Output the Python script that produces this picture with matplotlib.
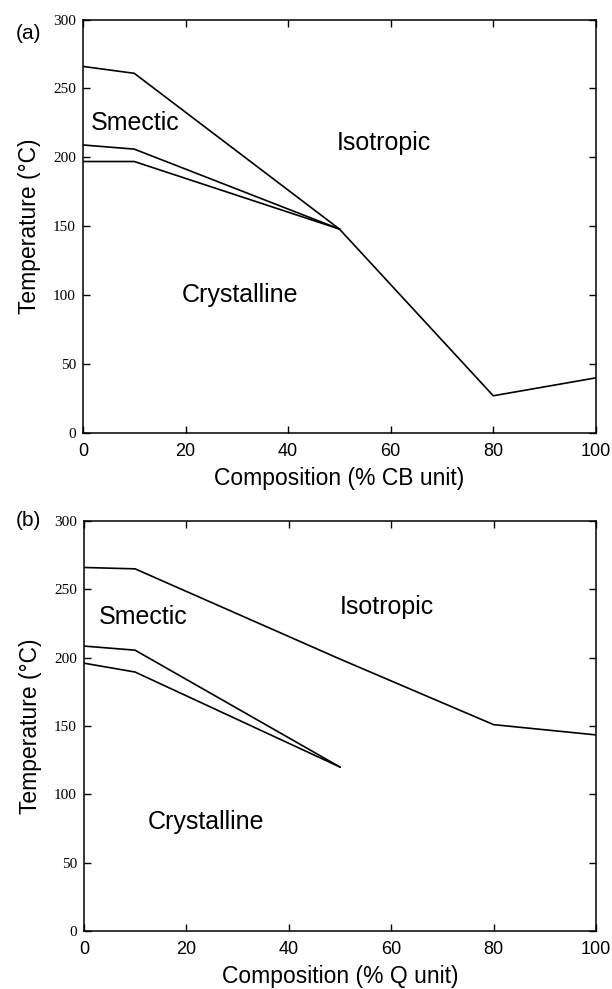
import matplotlib.pyplot as plt

# panel (a): composition in % CB unit
comp_a_iso = [0, 10, 50, 80, 100]
temp_a_iso = [266, 261, 148, 27, 40]
comp_a_mid = [0, 10, 50]
temp_a_mid = [209, 206, 148]
comp_a_low = [0, 10, 50]
temp_a_low = [197, 197, 148]

# panel (b): composition in % Q unit
comp_b_iso = [0, 10, 50, 80, 100]
temp_b_iso = [266, 265, 199, 151, 143.5]
comp_b_mid = [0, 10, 50]
temp_b_mid = [208.5, 205.5, 120]
comp_b_low = [0, 10, 50]
temp_b_low = [196, 189.5, 120]

xticks = [0, 20, 40, 60, 80, 100]
yticks = [0, 50, 100, 150, 200, 250, 300]

sans = ['Liberation Sans', 'DejaVu Sans']
serif = ['Liberation Serif', 'DejaVu Serif']

fig = plt.figure(figsize=(6.12, 9.89), dpi=100)
ax_a = fig.add_axes([0.1356, 0.5622, 0.838, 0.418])
ax_b = fig.add_axes([0.137, 0.0586, 0.837, 0.4146])


def style_axes(ax, xlabel):
    ax.set_xlim(0, 100)
    ax.set_ylim(0, 300)
    ax.set_xticks(xticks)
    ax.set_yticks(yticks)
    ax.tick_params(direction='in', top=True, right=True, length=5, width=1)
    ax.tick_params(axis='x', pad=7)
    ax.tick_params(axis='y', pad=5)
    for lab in ax.get_xticklabels():
        lab.set_fontfamily(sans)
        lab.set_fontsize(13)
    for lab in ax.get_yticklabels():
        lab.set_fontfamily(serif)
        lab.set_fontsize(11)
    for sp in ax.spines.values():
        sp.set_linewidth(1.1)
    ax.set_xlabel(xlabel, family=sans, fontsize=16.5, labelpad=5)
    ax.set_ylabel('Temperature (°C)', family=sans, fontsize=16.5, labelpad=9)


lw = 1.2
ax_a.plot(comp_a_iso, temp_a_iso, color='black', lw=lw)
ax_a.plot(comp_a_mid, temp_a_mid, color='black', lw=lw)
ax_a.plot(comp_a_low, temp_a_low, color='black', lw=lw)
style_axes(ax_a, 'Composition (% CB unit)')
ax_a.text(1.5, 225, 'Smectic', family=sans, fontsize=18, va='center')
ax_a.text(49.5, 210.5, 'Isotropic', family=sans, fontsize=18, va='center')
ax_a.text(19.3, 100, 'Crystalline', family=sans, fontsize=18, va='center')

ax_b.plot(comp_b_iso, temp_b_iso, color='black', lw=lw)
ax_b.plot(comp_b_mid, temp_b_mid, color='black', lw=lw)
ax_b.plot(comp_b_low, temp_b_low, color='black', lw=lw)
style_axes(ax_b, 'Composition (% Q unit)')
ax_b.text(2.9, 230, 'Smectic', family=sans, fontsize=18, va='center')
ax_b.text(50, 237, 'Isotropic', family=sans, fontsize=18, va='center')
ax_b.text(12.5, 80, 'Crystalline', family=sans, fontsize=18, va='center')

fig.text(0.026, 0.966, '(a)', family=sans, fontsize=15, va='center')
fig.text(0.026, 0.474, '(b)', family=sans, fontsize=15, va='center')

fig.savefig('out.png', dpi=100)
